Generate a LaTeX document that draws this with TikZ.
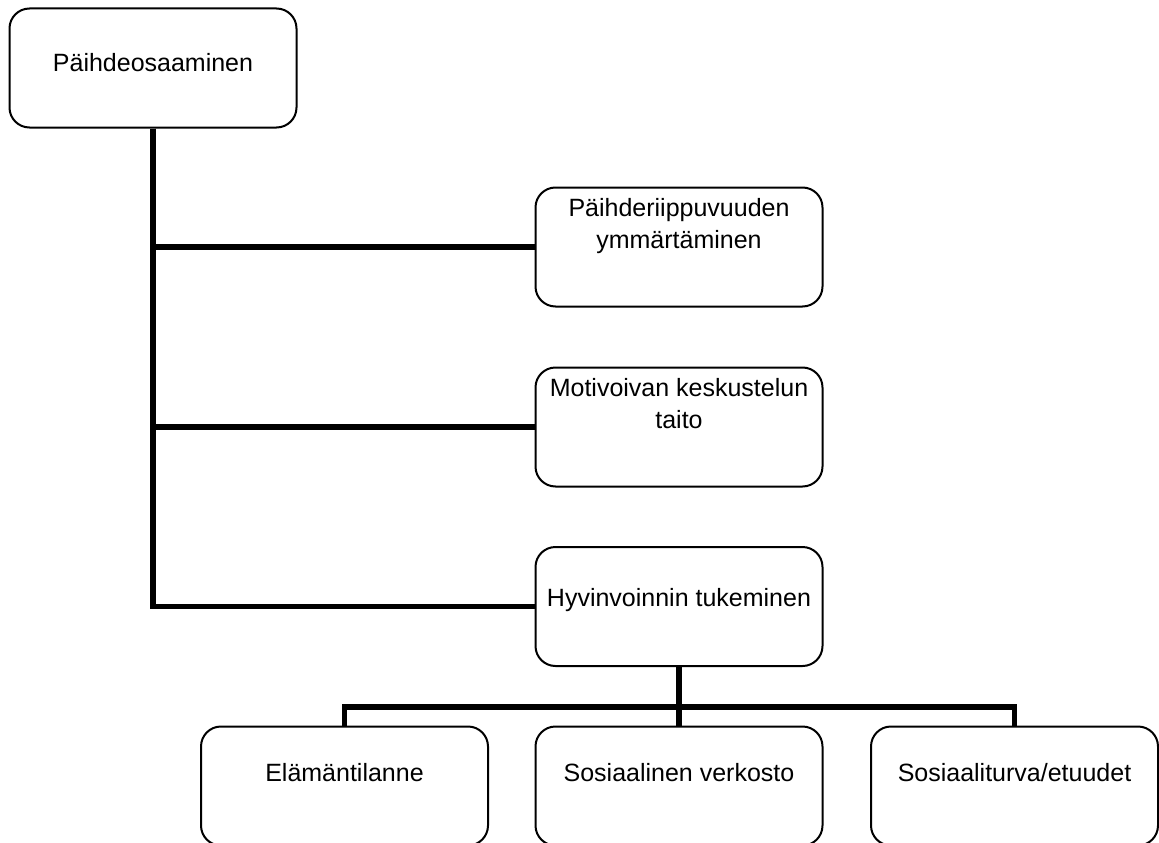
\documentclass[tikz,border=0pt]{standalone}
\usepackage{fontspec}
\setmainfont{Liberation Sans}
\begin{document}
\begin{tikzpicture}[x=1pt,y=-1pt,
  box/.style={draw, line width=2pt, rounded corners=20pt, minimum width=287pt, minimum height=119pt, inner sep=0pt, fill=white},
  lbl/.style={font=\fontsize{25}{31.5}\selectfont, inner sep=0pt, align=center, anchor=base},
  conn/.style={line width=5.5pt, line join=miter}]
\useasboundingbox (0,0) rectangle (1159,843);
\clip (0,0) rectangle (1159,843);
\fill[white] (0,0) rectangle (1159,843);
% boxes
\node[box] (top) at (153,68) {};
\node[box] (b2) at (679,247) {};
\node[box] (b3) at (679,427) {};
\node[box] (b4) at (679,606.5) {};
\node[box] (c1) at (344.5,786) {};
\node[box] (c2) at (679,786) {};
\node[box] (c3) at (1014.5,786) {};
% connectors
\draw[conn] (top.south) |- (b2.west);
\draw[conn] (top.south) |- (b3.west);
\draw[conn] (top.south) |- (b4.west);
\coordinate (bus) at (679,707);
\draw[conn] (b4.south) -- (c2.north);
\draw[conn] (c1.north) |- (bus) -| (c3.north);
% texts
\node[lbl] (ttop) at (153,71) {Päihdeosaaminen};
\node[lbl] (t2) at (679,248) {Päihderiippuvuuden\\ymmärtäminen};
\node[lbl] (t3) at (679,428) {Motivoivan keskustelun\\taito};
\node[lbl] (t4) at (679,606) {Hyvinvoinnin tukeminen};
\node[lbl] (u1) at (344.5,781.7) {Elämäntilanne};
\node[lbl] (u2) at (679,781.7) {Sosiaalinen verkosto};
\node[lbl] (u3) at (1014.5,781.7) {Sosiaaliturva/etuudet};
\end{tikzpicture}
\end{document}
